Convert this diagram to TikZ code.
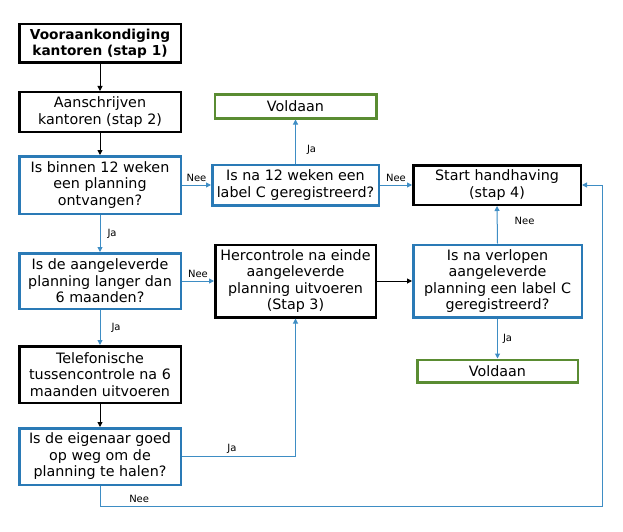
\documentclass[tikz,border=0pt]{standalone}
\usepackage{fontspec}
\setmainfont{DejaVu Sans}
\usetikzlibrary{positioning, arrows.meta}
\definecolor{vraagblue}{HTML}{2A7AB6}
\definecolor{lijnblue}{HTML}{3E8DC4}
\definecolor{okgreen}{HTML}{5A8C32}
\tikzstyle{actie} = [
    rectangle, draw=black, line width=2.5pt,
    minimum width=161.5pt, inner sep=2pt,
    align=center, font=\fontsize{14.3}{16.5}\selectfont % Verdana-like size
]
\tikzstyle{vraag} = [actie, draw=vraagblue]
\tikzstyle{voldaan} = [actie, draw=okgreen]
\tikzstyle{pijl} = [line width=1pt, draw=lijnblue, -{Triangle[length=5pt, width=5pt]}]
\tikzstyle{zwartpijl} = [pijl, draw=black]
\tikzstyle{antwoord} = [font=\fontsize{10}{11}\selectfont, inner sep=3pt]

\begin{document}
\begin{tikzpicture}
        \useasboundingbox (0,0) rectangle (623pt,-532pt);

        % Left column: main route
        \node[actie, minimum height=38.5pt, font=\fontsize{13.7}{16.5}\selectfont\bfseries] (stap1) at (100pt,-43.5pt) {
            Vooraankondiging\\kantoren (stap 1)
        };
        \node[actie, minimum height=39.5pt] (stap2) [below=27pt of stap1] {
            Aanschrijven\\kantoren (stap 2)
        };
        \node[vraag, minimum height=57.5pt] (ontvangen) [below=22pt of stap2] {
            Is binnen 12 weken\\een planning\\ontvangen?
        };
        \node[vraag, minimum height=55.5pt] (langer) [below=37pt of ontvangen] {
            Is de aangeleverde\\planning langer dan\\6 maanden?
        };
        \node[actie, minimum height=56.5pt] (telefonisch) [below=35pt of langer] {
            Telefonische\\tussencontrole na 6\\maanden uitvoeren
        };
        \node[vraag, minimum height=56.5pt] (opweg) [below=23pt of telefonisch] {
            Is de eigenaar goed\\op weg om de\\planning te halen?
        };

        % Middle column
        \node[vraag, minimum width=166.5pt, minimum height=40.5pt] (label12) [right=29pt of ontvangen] {
            Is na 12 weken een\\label C geregistreerd?
        };
        \node[voldaan, minimum height=23.5pt] (voldaan1) [above=44pt of label12] {Voldaan};
        \node[actie, minimum width=160.5pt, minimum height=72.5pt] (hercontrole) [right=32pt of langer] {
            Hercontrole na einde\\aangeleverde\\planning uitvoeren\\(Stap 3)
        };

        % Right column
        \node[actie, minimum width=167.5pt, minimum height=39.5pt] (handhaving) [right=32pt of label12] {
            Start handhaving\\(stap 4)
        };
        \node[vraag, minimum width=168.5pt, minimum height=72.5pt] (verlopen) [right=35pt of hercontrole] {
            Is na verlopen\\aangeleverde\\planning een label C\\geregistreerd?
        };
        \node[voldaan, minimum width=160.5pt, minimum height=22.5pt] (voldaan2) [below=40pt of verlopen] {Voldaan};

        \coordinate (lushoek) at (602pt,-506pt); % corner of the return line

        % Connectors
        \draw[zwartpijl] (stap1) -- (stap2);
        \draw[zwartpijl] (stap2) -- (ontvangen);
        \draw[pijl] (ontvangen) -- node[antwoord, right=4pt] {Ja} (langer);
        \draw[pijl] (langer) -- node[antwoord, right=8pt] {Ja} (telefonisch);
        \draw[zwartpijl] (telefonisch) -- (opweg);
        \draw[pijl] (ontvangen.east) -- node[antwoord, above] {Nee} (label12.west);
        \draw[pijl] (langer.east) -- node[antwoord, above] {Nee} (hercontrole.west);
        \draw[pijl] (label12.north) -- node[antwoord, right=8pt, pos=0.32] {Ja} (voldaan1.south);
        \draw[pijl] (label12.east) -- node[antwoord, above] {Nee} (handhaving.west);
        \draw[zwartpijl] (hercontrole.east) -- (verlopen.west);
        \draw[pijl] (verlopen.north) -- node[antwoord, right=14pt, pos=0.6] {Nee} (handhaving.south);
        \draw[pijl] (verlopen.south) -- node[antwoord, right=2pt] {Ja} (voldaan2.north);
        \draw[pijl] (opweg.east) -| node[antwoord, above, pos=0.22] {Ja} (hercontrole.south);
        \draw[pijl] (opweg.south) |- node[antwoord, above, pos=0.539] {Nee} (lushoek) |- (handhaving.east);

    \end{tikzpicture}
\end{document}
